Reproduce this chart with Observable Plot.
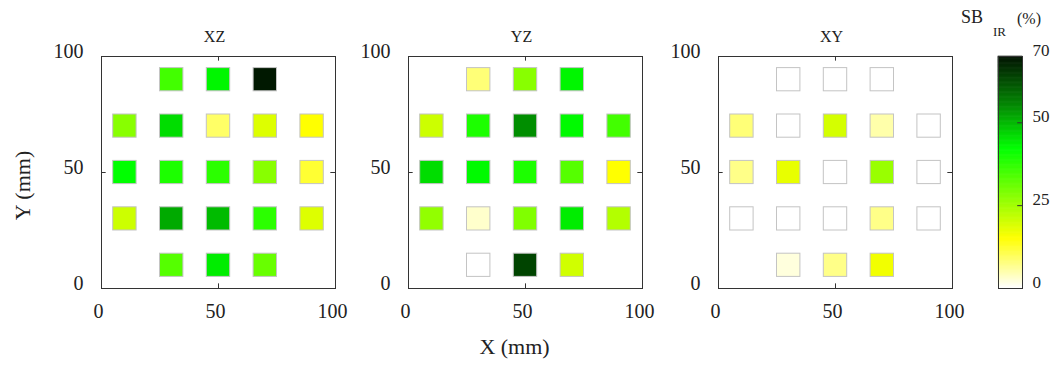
<!DOCTYPE html>
<html>
<head>
<meta charset="utf-8">
<script src="https://cdn.jsdelivr.net/npm/d3@7"></script>
<script src="https://cdn.jsdelivr.net/npm/@observablehq/plot@0.6"></script>
<style>
  html, body { margin: 0; padding: 0; background: #fff; }
  #wrap { position: relative; width: 1052px; height: 365px; font-family: "Liberation Serif", "Times New Roman", serif; color: #222; }
  #wrap > .p { position: absolute; top: 0; }
  .lbl { position: absolute; white-space: nowrap; line-height: 1; }
  #wrap svg text { font-family: "Liberation Serif", "Times New Roman", serif; }
</style>
</head>
<body>
<div id="wrap"></div>
<script>
// ---------- data ----------
const xs = [10, 30, 50, 70, 90];
const ys = [90, 70, 50, 30, 10];
const panelTitles = ["XZ", "YZ", "XY"];
const axisTicks = [0, 50, 100];
const innerTicks = [50];
const colorTicks = [0, 25, 50, 70];
const colorInnerTicks = [25, 50];

// SB_IR (%) per cell, rows top (Y=90) to bottom (Y=10), columns X=10..90
const xzValues = [
  [null, 35, 43, 69, null],
  [27.6, 45.7, 9, 18.6, 15],
  [42, 39, 37.5, 27.6, 12],
  [20.4, 51.4, 49.5, 37.5, 18.6],
  [null, 33, 44, 31, null]
];
const yzValues = [
  [null, 8, 27.6, 43, null],
  [20.4, 39, 54.5, 42.5, 35],
  [45.7, 42.5, 39, 33, 15],
  [26.5, 3, 28.5, 44, 23],
  [null, 0, 63.5, 20, null]
];
const xyValues = [
  [null, 0, 0, 0, null],
  [8, 0, 19.6, 5, 0],
  [7, 17.4, 0, 25.8, 0],
  [0, 0, 0, 7, 0],
  [null, 2, 7, 16.4, null]
];

const colorDomain = [0, 15, 42, 56, 70];
const colorRange = ["#ffffff", "#ffff00", "#00ff00", "#008000", "#001000"];

// ---------- helpers ----------
const FONT = '"Liberation Serif", "Times New Roman", serif';
const colorScale = {type: "linear", domain: colorDomain, range: colorRange, clamp: true};

function toCells(values) {
  const out = [];
  values.forEach((row, i) => row.forEach((v, j) => {
    if (v != null) out.push({x: xs[j], y: ys[i], v});
  }));
  return out;
}

const wrap = document.getElementById("wrap");
function place(node, left) {
  const d = document.createElement("div");
  d.className = "p";
  d.style.left = left + "px";
  d.appendChild(node);
  wrap.appendChild(d);
}

function panel(values, title, {marginLeft, extra = []}) {
  const W = 234;
  const cells = toCells(values);
  return Plot.plot({
    width: marginLeft + W + 6,
    height: 365,
    marginLeft, marginRight: 6, marginTop: 56, marginBottom: 77,
    style: {fontFamily: FONT, fontSize: "20px", background: "transparent", overflow: "visible", color: "#222"},
    x: {domain: [0, 100]},
    y: {domain: [0, 100]},
    color: colorScale,
    marks: [
      Plot.rect(cells, {
        x1: d => d.x - 5, x2: d => d.x + 5,
        y1: d => d.y - 5, y2: d => d.y + 5,
        fill: "v", stroke: "#c4c4c4", strokeWidth: 1
      }),
      Plot.frame({stroke: "#333", strokeWidth: 1}),
      Plot.ruleX(innerTicks, {y1: 0, y2: 2, stroke: "#333"}),
      Plot.ruleX(innerTicks, {y1: 98, y2: 100, stroke: "#333"}),
      Plot.ruleY(innerTicks, {x1: 0, x2: 2, stroke: "#333"}),
      Plot.ruleY(innerTicks, {x1: 98, x2: 100, stroke: "#333"}),
      Plot.axisX({ticks: axisTicks, tickSize: 0, tickPadding: 15, label: null, fontSize: 20, dx: -3, fill: "#222"}),
      Plot.axisY({ticks: axisTicks, tickSize: 0, tickPadding: 18, label: null, fontSize: 20, dy: -5, fill: "#222"}),
      Plot.text([title], {frameAnchor: "top", dy: -26, dx: -4, fontSize: 16, fill: "#222"}),
      ...extra
    ]
  });
}

place(panel(xzValues, panelTitles[0], {
  marginLeft: 101,
  extra: [Plot.text(["Y (mm)"], {frameAnchor: "left", dx: -79, dy: 13, rotate: -90, fontSize: 22, fill: "#222", textAnchor: "middle"})]
}), 0);

place(panel(yzValues, panelTitles[1], {
  marginLeft: 68,
  extra: [Plot.text(["X (mm)"], {frameAnchor: "bottom", dy: 65, dx: -11, fontSize: 22, fill: "#222"})]
}), 340);

place(panel(xyValues, panelTitles[2], {marginLeft: 68}), 650);

// ---------- colorbar ----------
const strips = d3.range(0, 70, 0.25);
const cbar = Plot.plot({
  width: 112, height: 365,
  marginLeft: 58, marginRight: 30, marginTop: 56, marginBottom: 77,
  style: {fontFamily: FONT, fontSize: "17px", background: "transparent", overflow: "visible", color: "#222"},
  x: {domain: [0, 1], axis: null},
  y: {domain: [0, 70]},
  color: colorScale,
  marks: [
    Plot.rect(strips, {x1: 0, x2: 1, y1: d => d, y2: d => Math.min(70, d + 0.25), fill: d => d, stroke: d => d, strokeWidth: 0.6}),
    Plot.frame({stroke: "#333", strokeWidth: 1}),
    Plot.ruleY(colorInnerTicks, {x1: 0.8, x2: 1, stroke: "#333"}),
    Plot.axisY({anchor: "right", ticks: colorTicks, tickSize: 0, tickPadding: 10, label: null, fontSize: 17, dy: -6, fill: "#222"})
  ]
});
place(cbar, 940);

// colorbar title SB_IR (%)
function lbl(text, left, top, size) {
  const s = document.createElement("div");
  s.className = "lbl";
  s.textContent = text;
  s.style.left = left + "px";
  s.style.top = top + "px";
  s.style.fontSize = size + "px";
  wrap.appendChild(s);
}
lbl("SB", 961, 8, 18);
lbl("IR", 993, 25, 13);
lbl("(%)", 1017, 11, 16);
</script>
</body>
</html>
